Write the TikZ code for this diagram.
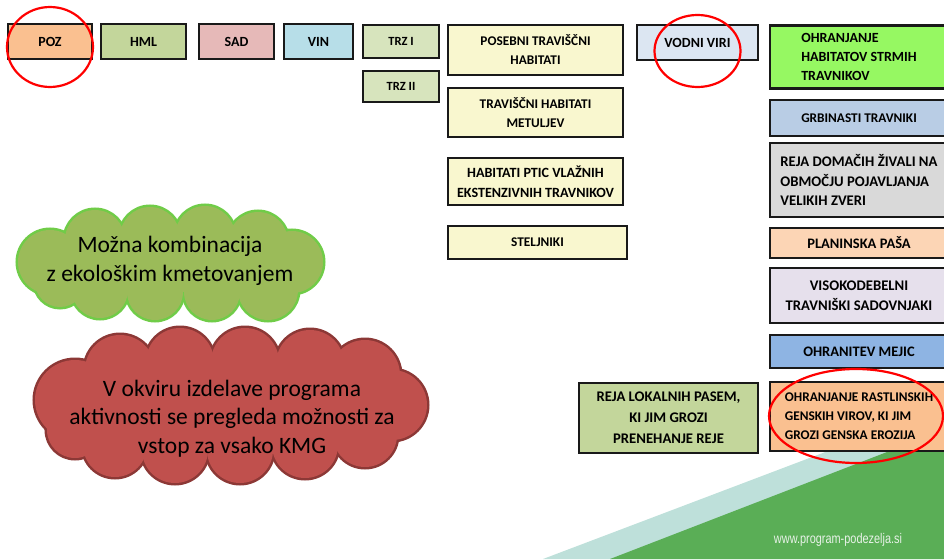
\documentclass[tikz,border=0pt]{standalone}
\usepackage{fontspec}
\setmainfont{Carlito}
\newfontfamily\urlfont[FakeStretch=0.78]{Liberation Sans}

\definecolor{pozC}{RGB}{250,192,144}
\definecolor{hmlC}{RGB}{195,214,155}
\definecolor{sadC}{RGB}{230,185,184}
\definecolor{vinC}{RGB}{183,222,232}
\definecolor{trzC}{RGB}{215,228,189}
\definecolor{travC}{RGB}{249,247,207}
\definecolor{vodaC}{RGB}{220,230,242}
\definecolor{strmC}{RGB}{150,248,98}
\definecolor{grbC}{RGB}{185,205,229}
\definecolor{zverC}{RGB}{217,217,217}
\definecolor{pasaC}{RGB}{252,213,181}
\definecolor{sadovC}{RGB}{230,224,236}
\definecolor{mejC}{RGB}{142,180,227}
\definecolor{ekoC}{RGB}{155,187,89}
\definecolor{ekoRob}{RGB}{112,204,72}
\definecolor{kmgC}{RGB}{192,80,77}
\definecolor{kmgRob}{RGB}{140,56,54}
\definecolor{pasC}{RGB}{190,224,218}
\definecolor{zelenaC}{RGB}{90,174,86}
\definecolor{urlC}{RGB}{232,242,232}

\begin{document}
\begin{tikzpicture}[x=1pt,y=-1pt,
	ukrep/.style={draw=black!90, line width=2.2pt, rectangle, inner sep=0pt, align=center, font=\bfseries\fontsize{13.3}{19}\selectfont},
	ukrepV/.style={ukrep, font=\bfseries\fontsize{14}{19}\selectfont},
	ukrepW/.style={ukrep, font=\bfseries\fontsize{14.7}{19.5}\selectfont},
	levo/.style={align=left},
	napis/.style={font=\fontsize{23.5}{28.5}\selectfont, align=center},
	krog/.style={draw=red, line width=2.2pt}]
	%%%%% START %%%%%
	\useasboundingbox (0,0) rectangle (944,559);
	\clip (0,0) rectangle (944,559);
	\def\desnox{859}
	\def\desnow{178}
	\def\rob{5pt}
	
	% ozadje spodaj desno
	\fill[pasC] (543,559) -- (944,407) -- (944,559) -- cycle;
	\fill[zelenaC] (610,559) -- (944,430) -- (944,559) -- cycle;
	\node[text=urlC, font=\urlfont\fontsize{14}{16}\selectfont] (url) at (838,540) {www.program-podezelja.si};
	
	% prva vrsta
	\node[ukrepV, fill=pozC, minimum width=84, minimum height=35] (poz) at (50,41.5) {POZ};
	\node[ukrepV, fill=hmlC, minimum width=85, minimum height=35] (hml) at (143.5,41.5) {HML};
	\node[ukrepV, fill=sadC, minimum width=75, minimum height=35] (sad) at (236.5,41.5) {SAD};
	\node[ukrepV, fill=vinC, minimum width=69, minimum height=35] (vin) at (318.5,41.5) {VIN};
	\node[ukrep, fill=trzC, minimum width=76, minimum height=33, font=\bfseries\fontsize{12.5}{19}\selectfont] (trzI) at (401,41.5) {TRZ I};
	\node[ukrep, fill=trzC, minimum width=76, minimum height=31, font=\bfseries\fontsize{12.5}{19}\selectfont] (trzII) at (401,86.5) {TRZ II};
	
	% travniski habitati
	\node[ukrep, fill=travC, minimum width=175, minimum height=50] (posebni) at (535.5,50) {POSEBNI TRAVIŠČNI\\HABITATI};
	\node[ukrep, fill=travC, minimum width=175, minimum height=49] (metulji) at (535.5,112.5) {TRAVIŠČNI HABITATI\\METULJEV};
	\node[ukrep, fill=travC, minimum width=175, minimum height=47, font=\bfseries\fontsize{14.1}{20}\selectfont] (ptice) at (535.5,181.5) {HABITATI PTIC VLAŽNIH\\EKSTENZIVNIH TRAVNIKOV};
	\node[ukrep, fill=travC, minimum width=179, minimum height=33] (stelja) at (537.5,242.5) {STELJNIKI};
	\node[ukrepV, fill=vodaC, minimum width=121, minimum height=35] (voda) at (697.5,42.5) {VODNI VIRI};
	\node[ukrepW, fill=hmlC, minimum width=179, minimum height=70, font=\bfseries\fontsize{14.7}{21}\selectfont] (pasme) at (668.5,418) {REJA LOKALNIH PASEM,\\KI JIM GROZI\\PRENEHANJE REJE};
	
	% desni stolpec
	\node[ukrepV, levo, fill=strmC, minimum width=\desnow, minimum height=63] (strmi) at (\desnox,57) {OHRANJANJE\\HABITATOV STRMIH\\TRAVNIKOV};
	\node[ukrep, fill=grbC, minimum width=\desnow, minimum height=36] (grbine) at (\desnox,118) {GRBINASTI TRAVNIKI};
	\node[ukrepW, levo, fill=zverC, minimum width=\desnow, minimum height=74] (zveri) at (\desnox,180) {REJA DOMAČIH ŽIVALI NA\\OBMOČJU POJAVLJANJA\\VELIKIH ZVERI};
	\node[ukrepW, fill=pasaC, minimum width=\desnow, minimum height=30, font=\bfseries\fontsize{14.5}{19}\selectfont] (pasa) at (\desnox,243) {PLANINSKA PAŠA};
	\node[ukrepW, fill=sadovC, minimum width=\desnow, minimum height=55] (sadovnjaki) at (\desnox,295.5) {VISOKODEBELNI\\TRAVNIŠKI SADOVNJAKI};
	\node[ukrepW, fill=mejC, minimum width=\desnow, minimum height=33, font=\bfseries\fontsize{14.5}{19}\selectfont] (meje) at (\desnox,351.5) {OHRANITEV MEJIC};
	\node[ukrep, levo, fill=pozC, minimum width=\desnow, minimum height=69] (rastline) at (\desnox,416.5) {OHRANJANJE RASTLINSKIH\\GENSKIH VIROV, KI JIM\\GROZI GENSKA EROZIJA};
	
	% oblacek eko
	\def\ekopuf{50/262/32, 95/240/30, 150/237/30, 205/236/30, 258/242/30, 292/262/31, 268/290/30, 212/292/28, 155/292/28, 100/290/28, 60/282/25}
	\foreach \x/\y/\r in \ekopuf {\draw[ekoRob, line width=\rob] (\x,\y) circle (\r);}
	\foreach \x/\y/\r in \ekopuf {\fill[ekoC] (\x,\y) circle (\r);}
	\fill[ekoC] (55,240) rectangle (290,292);
	\node[napis] (eko) at (170,261) {Možna kombinacija\\z ekološkim kmetovanjem};
	
	% oblacek kmg
	\def\kmgpuf{75/400/40, 120/370/35, 180/362/34, 245/362/34, 310/364/34, 365/375/35, 392/405/35, 365/435/32, 305/445/33, 240/450/33, 175/450/33, 115/445/32, 75/430/28}
	\foreach \x/\y/\r in \kmgpuf {\draw[kmgRob, line width=\rob] (\x,\y) circle (\r);}
	\foreach \x/\y/\r in \kmgpuf {\fill[kmgC] (\x,\y) circle (\r);}
	\fill[kmgC] (80,370) rectangle (390,445);
	\node[napis] (kmg) at (232,418.5) {V okviru izdelave programa\\aktivnosti se pregleda možnosti za\\vstop za vsako KMG};
	
	% rdeci krogi
	\draw[krog] (poz.center) ++(0,5.5) ellipse [x radius=43, y radius=40];
	\draw[krog] (voda.center) ++(0,8.5) ellipse [x radius=43, y radius=36];
	\draw[krog] (rastline.center) ++(-3,-0.5) ellipse [x radius=87, y radius=47];
	%%%%% END %%%%%
\end{tikzpicture}
\end{document}
